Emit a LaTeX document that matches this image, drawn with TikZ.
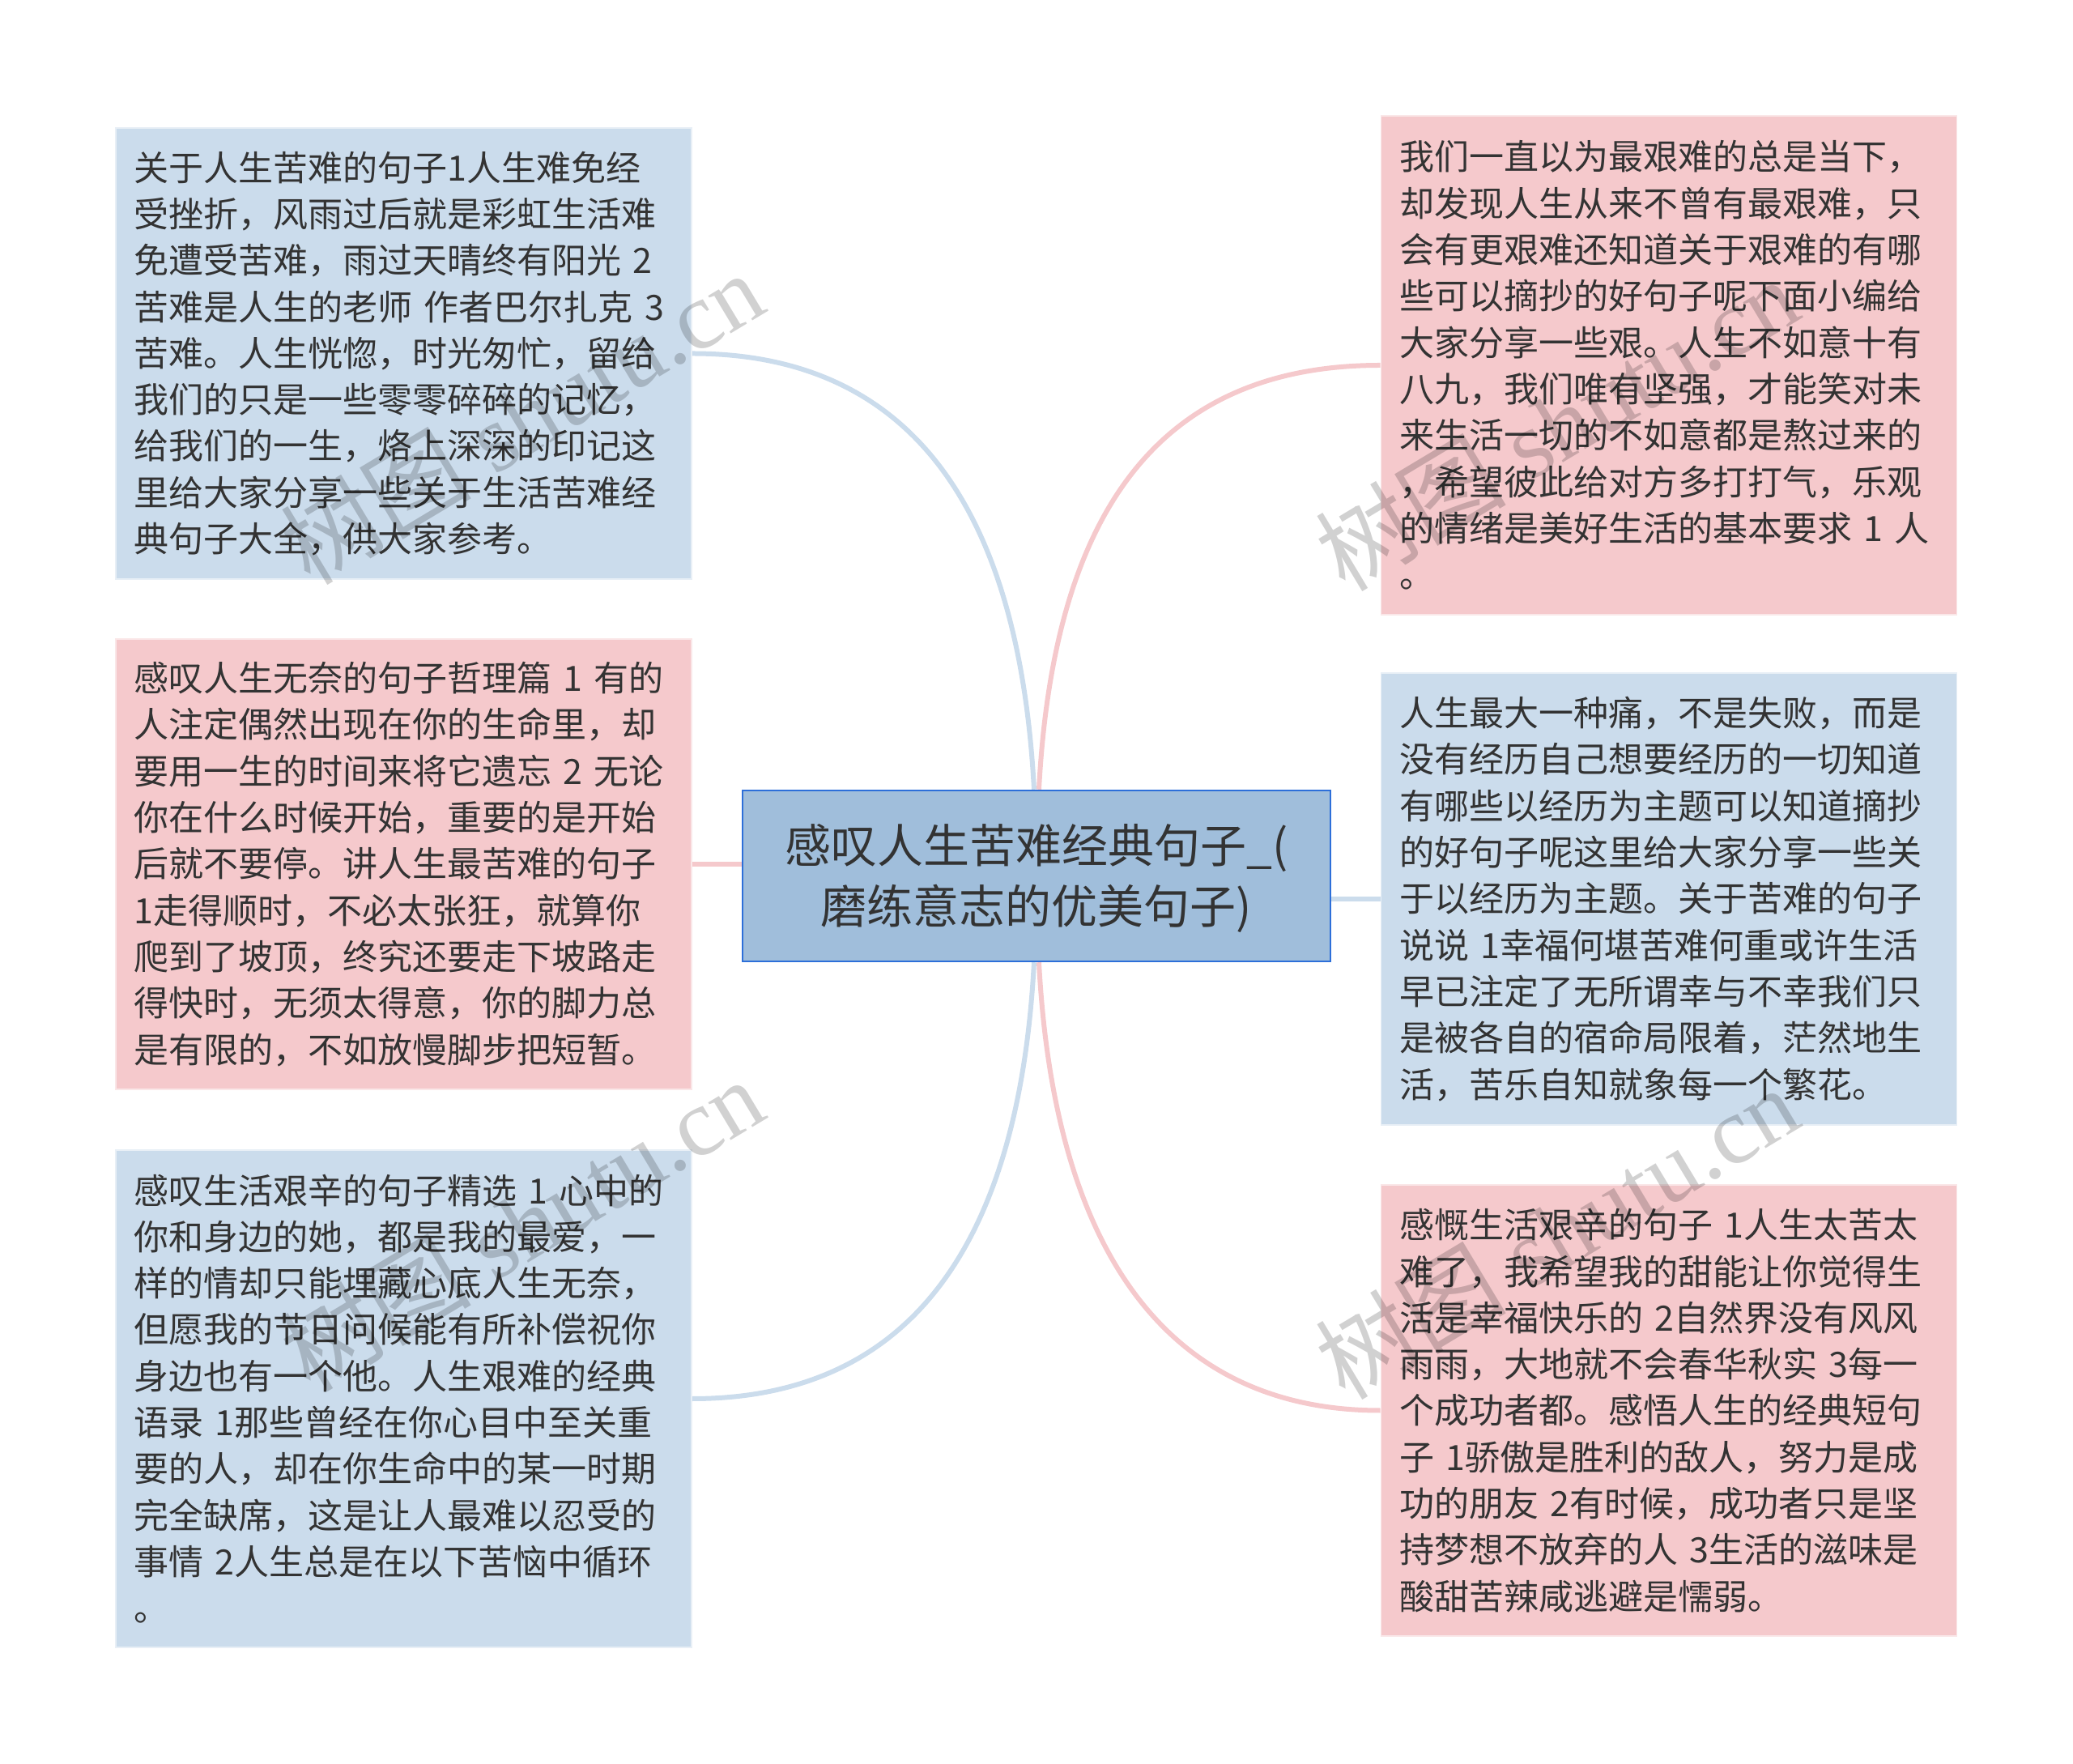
\documentclass[tikz,border=0pt]{standalone}
\usepackage{fontspec}
\usetikzlibrary{calc}
\newfontfamily\cjk{Noto Sans CJK SC}
\newfontfamily\wmfont{Liberation Serif}
\definecolor{bluefill}{HTML}{CBDCEC}
\definecolor{redfill}{HTML}{F5C9CC}
\definecolor{mainfill}{HTML}{A0BEDB}
\definecolor{mainline}{HTML}{2D6FD9}
\definecolor{inktext}{HTML}{333333}
\tikzset{
  textbox/.style={rectangle, draw=#1!45!white, fill=#1, line width=0.8pt, inner xsep=11pt, inner ysep=0pt,
    text width=333pt, minimum width=355.5pt, align=left, text=inktext,
    font=\cjk\fontsize{21.5}{28.65}\selectfont},
  mainbox/.style={rectangle, draw=mainline, fill=mainfill, line width=1.2pt, inner sep=0pt,
    minimum width=363pt, minimum height=105.5pt, align=center, text=inktext,
    font=\cjk\fontsize{28.5}{37.5}\selectfont},
  bluelink/.style={draw=bluefill, line width=3pt},
  redlink/.style={draw=redfill, line width=3pt},
  curvelink/.style={out distance=130.5pt, in distance=180pt},
  watermark/.style={rotate=31, text=black, opacity=0.18, font=\wmfont\fontsize{59}{59}\selectfont},
}

\begin{document}
\begin{tikzpicture}
  \useasboundingbox (-640pt,-548.25pt) rectangle (640pt,540.75pt);
  \node[mainbox] (a1) at (0,0) {\rule{0pt}{27pt}感叹人生苦难经典句子\_(\\磨练意志的优美句子)};

  \node[textbox=bluefill, minimum height=278.5pt] at ($(a1) + (-390.75pt, 322.5pt)$) (b1) {关于人生苦难的句子1人生难免经\\受挫折，风雨过后就是彩虹生活难\\免遭受苦难，雨过天晴终有阳光 2\\苦难是人生的老师 作者巴尔扎克 3\\苦难。人生恍惚，时光匆忙，留给\\我们的只是一些零零碎碎的记忆，\\给我们的一生，烙上深深的印记这\\里给大家分享一些关于生活苦难经\\典句子大全，供大家参考。};
  \node[textbox=redfill, minimum height=278pt] at ($(a1) + (-390.75pt, 7.25pt)$) (b2) {感叹人生无奈的句子哲理篇 1 有的\\人注定偶然出现在你的生命里，却\\要用一生的时间来将它遗忘 2 无论\\你在什么时候开始，重要的是开始\\后就不要停。讲人生最苦难的句子\\1走得顺时，不必太张狂，就算你\\爬到了坡顶，终究还要走下坡路走\\得快时，无须太得意，你的脚力总\\是有限的，不如放慢脚步把短暂。};
  \node[textbox=bluefill, minimum height=307pt] at ($(a1) + (-390.75pt, -322.75pt)$) (b3) {感叹生活艰辛的句子精选 1 心中的\\你和身边的她，都是我的最爱，一\\样的情却只能埋藏心底人生无奈，\\但愿我的节日问候能有所补偿祝你\\身边也有一个他。人生艰难的经典\\语录 1那些曾经在你心目中至关重\\要的人，却在你生命中的某一时期\\完全缺席，这是让人最难以忍受的\\事情 2人生总是在以下苦恼中循环\\。};

  \node[textbox=redfill, minimum height=308pt] at ($(a1) + (390.5pt, 315.25pt)$) (c1) {我们一直以为最艰难的总是当下，\\却发现人生从来不曾有最艰难，只\\会有更艰难还知道关于艰难的有哪\\些可以摘抄的好句子呢下面小编给\\大家分享一些艰。人生不如意十有\\八九，我们唯有坚强，才能笑对未\\来生活一切的不如意都是熬过来的\\，希望彼此给对方多打打气，乐观\\的情绪是美好生活的基本要求 1 人\\。};
  \node[textbox=bluefill, minimum height=279pt] at ($(a1) + (390.5pt, -14.25pt)$) (c2) {人生最大一种痛，不是失败，而是\\没有经历自己想要经历的一切知道\\有哪些以经历为主题可以知道摘抄\\的好句子呢这里给大家分享一些关\\于以经历为主题。关于苦难的句子\\说说 1幸福何堪苦难何重或许生活\\早已注定了无所谓幸与不幸我们只\\是被各自的宿命局限着，茫然地生\\活，苦乐自知就象每一个繁花。};
  \node[textbox=redfill, minimum height=278.5pt] at ($(a1) + (390.5pt, -330pt)$) (c3) {感慨生活艰辛的句子 1人生太苦太\\难了，我希望我的甜能让你觉得生\\活是幸福快乐的 2自然界没有风风\\雨雨，大地就不会春华秋实 3每一\\个成功者都。感悟人生的经典短句\\子 1骄傲是胜利的敌人，努力是成\\功的朋友 2有时候，成功者只是坚\\持梦想不放弃的人 3生活的滋味是\\酸甜苦辣咸逃避是懦弱。};

  \draw[bluelink] (b1.east) to[out=0, in=93, curvelink] ($(a1.north) + (-1.5pt, 0)$);
  \draw[redlink] (c1.west) to[out=180, in=87, curvelink] ($(a1.north) + (1.5pt, 0)$);
  \draw[bluelink] (b3.east) to[out=0, in=-93, curvelink] ($(a1.south) + (-1.5pt, 0)$);
  \draw[redlink] (c3.west) to[out=180, in=-87, curvelink] ($(a1.south) + (1.5pt, 0)$);
  \draw[redlink] (b2.east) -- (b2.east -| a1.west);
  \draw[bluelink] (c2.west) -- (c2.west -| a1.east);

  \node[watermark] (w1) at ($(a1) + (-318pt, 283pt)$) {{\cjk 树图} shutu.cn};
  \node[watermark] (w2) at ($(a1) + (-318pt, -215pt)$) {{\cjk 树图} shutu.cn};
  \node[watermark] (w3) at ($(a1) + (321pt, 279pt)$) {{\cjk 树图} shutu.cn};
  \node[watermark] (w4) at ($(a1) + (321pt, -220pt)$) {{\cjk 树图} shutu.cn};
\end{tikzpicture}
\end{document}
